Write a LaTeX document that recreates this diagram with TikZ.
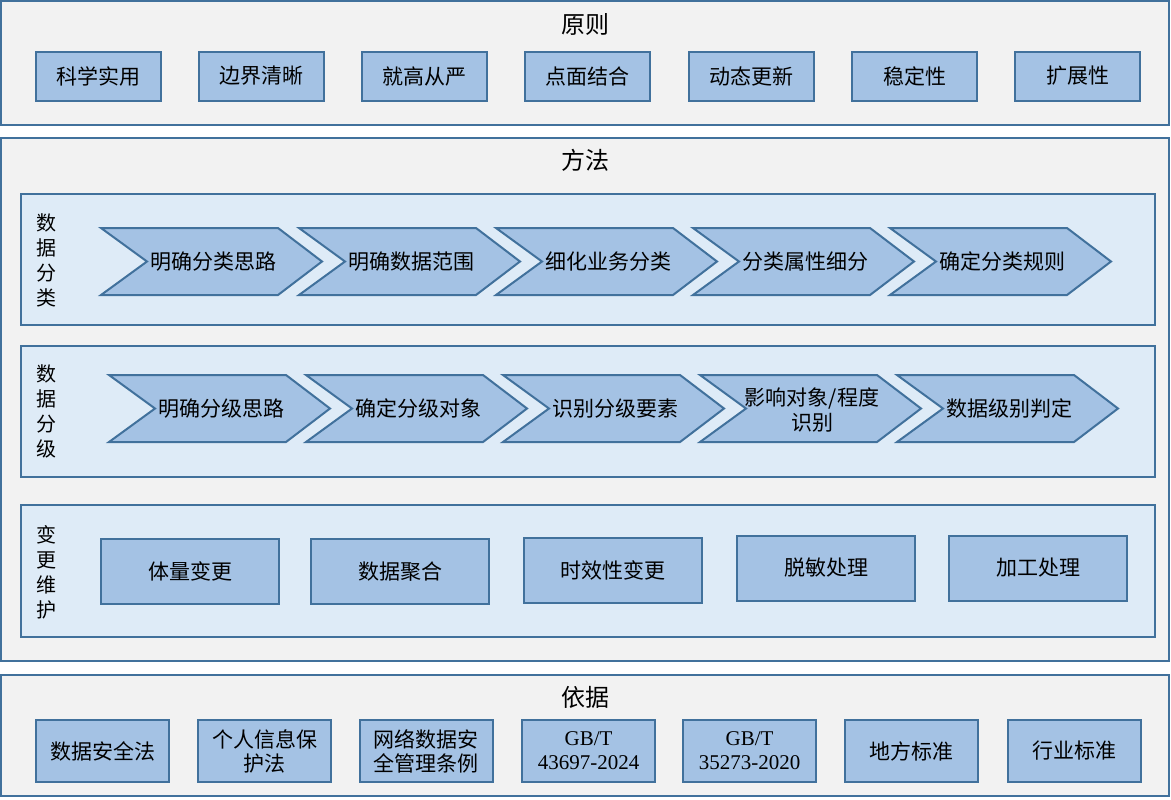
\documentclass[tikz,border=0pt]{standalone}
\usepackage{fontspec}
\setmainfont{Noto Sans CJK SC}
\newfontfamily\latinfont{Liberation Serif}
\usepackage{xcolor}
\definecolor{boxblue}{RGB}{65,113,156}
\definecolor{panelgray}{RGB}{242,242,242}
\definecolor{panelblue}{RGB}{222,235,247}
\definecolor{itemblue}{RGB}{164,194,228}
\tikzstyle{outerbox} = [draw=boxblue, fill=panelgray, line width=1pt]
\tikzstyle{subbox} = [draw=boxblue, fill=panelblue, line width=1pt]
\tikzstyle{chev} = [draw=boxblue, fill=itemblue, line width=1pt]
\tikzstyle{title} = [font=\fontsize{12pt}{14pt}\selectfont]
\tikzstyle{itemfont} = [font=\fontsize{10.5pt}{12pt}\selectfont, align=center, inner sep=0pt]
\tikzstyle{prinbox} = [itemfont, draw=boxblue, fill=itemblue, line width=1pt, minimum width=62.5pt, minimum height=24.5pt]
\tikzstyle{basisbox} = [itemfont, draw=boxblue, fill=itemblue, line width=1pt, minimum width=66.5pt, minimum height=31pt]
\tikzstyle{changebox} = [itemfont, draw=boxblue, fill=itemblue, line width=1pt, minimum width=89pt, minimum height=32.5pt]
\tikzstyle{chevtext} = [itemfont, font=\fontsize{10.5pt}{12.5pt}\selectfont]
\tikzstyle{sidelabel} = [font=\fontsize{10pt}{12.5pt}\selectfont, align=center, inner sep=0pt]

\begin{document}
\begin{tikzpicture}[x=0.5pt, y=-0.5pt]
    \useasboundingbox (0,0) rectangle (1171,799);

    % Outer panels
    \draw[outerbox] (1,1) rectangle (1169,125);
    \draw[outerbox] (1,138) rectangle (1169,661);
    \draw[outerbox] (1,675) rectangle (1169,796);

    % Titles
    \node[title] (yuanze) at (585,24) {原则};
    \node[title] (fangfa) at (585,160) {方法};
    \node[title] (yiju) at (585,697) {依据};

    % Principles
    \node[prinbox] (p1) at (98.5,76) {科学实用};
    \node[prinbox] (p2) at (261.5,76) {边界清晰};
    \node[prinbox] (p3) at (424.5,76) {就高从严};
    \node[prinbox] (p4) at (587.5,76) {点面结合};
    \node[prinbox] (p5) at (751.5,76) {动态更新};
    \node[prinbox] (p6) at (914.5,76) {稳定性};
    \node[prinbox] (p7) at (1077.5,76) {扩展性};

    % Method sub panels
    \draw[subbox] (21,194) rectangle (1155,325);
    \draw[subbox] (21,346) rectangle (1155,477);
    \draw[subbox] (21,505) rectangle (1155,637);

    % Side labels
    \node[sidelabel] (fenlei) at (46,260) {数\\据\\分\\类};
    \node[sidelabel] (fenji) at (46,411) {数\\据\\分\\级};
    \node[sidelabel] (weihu) at (46,572) {变\\更\\维\\护};

    % Classification steps
    \draw[chev] (101,228) -- ++(177,0) -- ++(44,33.5) -- ++(-44,33.5) -- ++(-177,0) -- ++(46,-33.5) -- cycle;
    \node[chevtext] (c1) at (213,261.5) {明确分类思路};
    \draw[chev] (299,228) -- ++(177,0) -- ++(44,33.5) -- ++(-44,33.5) -- ++(-177,0) -- ++(46,-33.5) -- cycle;
    \node[chevtext] (c2) at (411,261.5) {明确数据范围};
    \draw[chev] (496,228) -- ++(177,0) -- ++(44,33.5) -- ++(-44,33.5) -- ++(-177,0) -- ++(46,-33.5) -- cycle;
    \node[chevtext] (c3) at (608,261.5) {细化业务分类};
    \draw[chev] (693,228) -- ++(177,0) -- ++(44,33.5) -- ++(-44,33.5) -- ++(-177,0) -- ++(46,-33.5) -- cycle;
    \node[chevtext] (c4) at (805,261.5) {分类属性细分};
    \draw[chev] (890,228) -- ++(177,0) -- ++(44,33.5) -- ++(-44,33.5) -- ++(-177,0) -- ++(46,-33.5) -- cycle;
    \node[chevtext] (c5) at (1002,261.5) {确定分类规则};

    % Grading steps
    \draw[chev] (109,375) -- ++(177,0) -- ++(44,33.5) -- ++(-44,33.5) -- ++(-177,0) -- ++(46,-33.5) -- cycle;
    \node[chevtext] (g1) at (221,408.5) {明确分级思路};
    \draw[chev] (306,375) -- ++(177,0) -- ++(44,33.5) -- ++(-44,33.5) -- ++(-177,0) -- ++(46,-33.5) -- cycle;
    \node[chevtext] (g2) at (418,408.5) {确定分级对象};
    \draw[chev] (503,375) -- ++(177,0) -- ++(44,33.5) -- ++(-44,33.5) -- ++(-177,0) -- ++(46,-33.5) -- cycle;
    \node[chevtext] (g3) at (615,408.5) {识别分级要素};
    \draw[chev] (700,375) -- ++(177,0) -- ++(44,33.5) -- ++(-44,33.5) -- ++(-177,0) -- ++(46,-33.5) -- cycle;
    \node[chevtext] (g4) at (812,409.5) {影响对象/程度\\识别};
    \draw[chev] (897,375) -- ++(177,0) -- ++(44,33.5) -- ++(-44,33.5) -- ++(-177,0) -- ++(46,-33.5) -- cycle;
    \node[chevtext] (g5) at (1009,408.5) {数据级别判定};

    % Change maintenance
    \node[changebox] (m1) at (190,571.5) {体量变更};
    \node[changebox] (m2) at (400,571.5) {数据聚合};
    \node[changebox] (m3) at (613,570.5) {时效性变更};
    \node[changebox] (m4) at (826,568) {脱敏处理};
    \node[changebox] (m5) at (1038,568) {加工处理};

    % Basis
    \node[basisbox] (b1) at (102.5,751) {数据安全法};
    \node[basisbox] (b2) at (264.5,751) {个人信息保\\护法};
    \node[basisbox] (b3) at (426,751) {网络数据安\\全管理条例};
    \node[basisbox] (b4) at (588.5,751) {\latinfont GB/T\\\latinfont 43697-2024};
    \node[basisbox] (b5) at (749.5,751) {\latinfont GB/T\\\latinfont 35273-2020};
    \node[basisbox] (b6) at (911,751) {地方标准};
    \node[basisbox] (b7) at (1074,751) {行业标准};
\end{tikzpicture}
\end{document}
